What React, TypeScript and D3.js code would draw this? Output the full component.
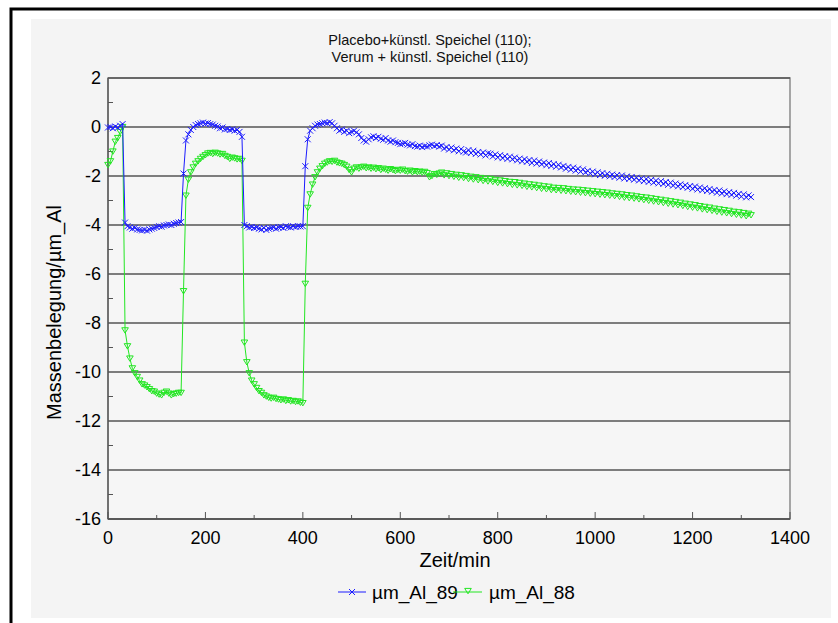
import * as d3 from "d3";

const titleLines = ["Placebo+künstl. Speichel (110);", "Verum + künstl. Speichel (110)"];
const xTicks = [0, 200, 400, 600, 800, 1000, 1200, 1400];
const yTicks = [2, 0, -2, -4, -6, -8, -10, -12, -14, -16];
const seriesNames = ["µm_Al_89", "µm_Al_88"];

// one reading every 5 minutes, 0 .. 1320 min
const sampleStep = 5;

const al89 = [
  -0.02, 0.0, -0.05, 0.02, -0.03, 0.05, 0.12,
  -3.9, -4.05, -4.1, -4.15, -4.12, -4.18, -4.2, -4.22, -4.2, -4.23, -4.18, -4.15, -4.12, -4.08, -4.05, -4.07, -4.02, -4.0, -3.98, -4.0, -3.95, -3.92, -3.9, -3.88,
  -1.9, -0.55, -0.3, -0.12, 0.0, 0.08, 0.12, 0.15, 0.18, 0.14, 0.16, 0.12, 0.1, 0.05, 0.02, -0.05, -0.02, -0.1, -0.08, -0.12, -0.1, -0.15, -0.12, -0.2, -0.4,
  -4.0, -4.05, -4.1, -4.08, -4.12, -4.1, -4.15, -4.18, -4.12, -4.2, -4.15, -4.12, -4.1, -4.15, -4.1, -4.08, -4.12, -4.05, -4.08, -4.1, -4.05, -4.08, -4.05, -4.06, -4.05,
  -1.6, -0.5, -0.15, -0.05, 0.05, 0.1, 0.12, 0.15, 0.18, 0.16,
  0.2, 0.15, 0.05, -0.05, -0.15, -0.1, -0.2, -0.15, -0.25, -0.2,
  -0.15, -0.22, -0.3, -0.45, -0.55, -0.6, -0.5, -0.42, -0.38, -0.45,
  -0.4, -0.48, -0.52, -0.45, -0.55, -0.6, -0.55, -0.62, -0.65, -0.7,
  -0.68, -0.65, -0.72, -0.75, -0.7, -0.78, -0.8, -0.76, -0.82, -0.78,
  -0.8, -0.75, -0.72, -0.78, -0.74, -0.8,
  -0.76, -0.88, -0.82, -0.92, -0.84, -0.95, -0.88, -0.99, -0.9, -1.0,
  -1.04, -0.94, -1.06, -0.97, -1.1, -1.02, -1.12, -1.04, -1.16, -1.07,
  -1.09, -1.2, -1.12, -1.24, -1.15, -1.27, -1.19, -1.3, -1.21, -1.32,
  -1.25, -1.36, -1.29, -1.4, -1.31, -1.42, -1.35, -1.47, -1.37, -1.49,
  -1.41, -1.52, -1.45, -1.56, -1.47, -1.59, -1.51, -1.62, -1.54, -1.65,
  -1.59, -1.7, -1.63, -1.74, -1.66, -1.78, -1.7, -1.82, -1.73, -1.85,
  -1.79, -1.89, -1.82, -1.93, -1.85, -1.96, -1.88, -1.99, -1.91, -2.01,
  -1.94, -2.04, -1.96, -2.07, -1.98, -2.1, -2.02, -2.12, -2.04, -2.15,
  -2.07, -2.18, -2.1, -2.21, -2.12, -2.24, -2.16, -2.27, -2.19, -2.3,
  -2.21, -2.32, -2.25, -2.36, -2.27, -2.39, -2.31, -2.42, -2.34, -2.45,
  -2.37, -2.48, -2.41, -2.52, -2.43, -2.55, -2.47, -2.58, -2.5, -2.61,
  -2.53, -2.64, -2.57, -2.68, -2.59, -2.71, -2.63, -2.74, -2.66, -2.77,
  -2.69, -2.8, -2.73, -2.84, -2.75, -2.87, -2.79, -2.86,
];

const al88 = [
  -1.55, -1.4, -1.0, -0.6, -0.45, -0.2, 0.0,
  -8.3, -8.95, -9.45, -9.85, -10.05, -10.2, -10.35, -10.5, -10.55, -10.62, -10.7, -10.78, -10.8, -10.88, -10.92, -10.95, -10.85, -10.8, -10.88, -10.95, -10.9, -10.88, -10.85, -10.85,
  -6.7, -2.8, -2.15, -1.85, -1.65, -1.5, -1.4, -1.3, -1.22, -1.15, -1.08, -1.06, -1.1, -1.05, -1.08, -1.12, -1.1, -1.18, -1.22, -1.3, -1.25, -1.28, -1.32, -1.3, -1.38,
  -8.8, -9.6, -10.05, -10.35, -10.5, -10.65, -10.78, -10.85, -10.95, -11.0, -11.05, -11.08, -11.05, -11.1, -11.12, -11.15, -11.12, -11.18, -11.15, -11.2, -11.18, -11.22, -11.2, -11.25, -11.27,
  -6.4, -3.3, -2.75, -2.35, -2.05, -1.85, -1.7, -1.6, -1.5, -1.45,
  -1.4, -1.42, -1.38, -1.45, -1.48, -1.5, -1.55, -1.62, -1.75, -1.85,
  -1.7, -1.65, -1.7, -1.65, -1.62, -1.68, -1.65, -1.7, -1.66, -1.72,
  -1.68, -1.75, -1.7, -1.74, -1.78, -1.72, -1.76, -1.8, -1.75, -1.78,
  -1.74, -1.8, -1.82, -1.78, -1.85, -1.8, -1.84, -1.82, -1.86, -1.83,
  -1.88, -2.05, -2.0, -1.92, -1.95, -1.9,
  -1.86, -1.97, -1.89, -2.0, -1.92, -2.03, -1.95, -2.07, -1.97, -2.08,
  -2.0, -2.12, -2.03, -2.14, -2.05, -2.17, -2.08, -2.2, -2.11, -2.22,
  -2.12, -2.24, -2.16, -2.28, -2.18, -2.3, -2.21, -2.33, -2.24, -2.36,
  -2.25, -2.38, -2.28, -2.4, -2.31, -2.44, -2.34, -2.46, -2.36, -2.49,
  -2.39, -2.52, -2.42, -2.54, -2.44, -2.57, -2.48, -2.58, -2.49, -2.6,
  -2.5, -2.62, -2.53, -2.64, -2.55, -2.66, -2.56, -2.68, -2.58, -2.7,
  -2.6, -2.72, -2.62, -2.74, -2.64, -2.76, -2.66, -2.78, -2.68, -2.8,
  -2.71, -2.82, -2.73, -2.85, -2.75, -2.88, -2.78, -2.9, -2.8, -2.92,
  -2.83, -2.95, -2.86, -2.98, -2.88, -3.01, -2.91, -3.04, -2.94, -3.07,
  -2.97, -3.1, -3.0, -3.13, -3.03, -3.16, -3.06, -3.19, -3.09, -3.22,
  -3.13, -3.26, -3.16, -3.29, -3.19, -3.32, -3.23, -3.36, -3.26, -3.39,
  -3.29, -3.42, -3.33, -3.46, -3.36, -3.49, -3.39, -3.52, -3.42, -3.55,
  -3.46, -3.58, -3.48, -3.61, -3.51, -3.64, -3.54, -3.6,
];

const W = 838;
const H = 623;
const plot = { left: 108, right: 790, top: 78, bottom: 519 };

const blue = "#1c1cff";
const green = "#22e622";

const crossPath = "M-3,-3L3,3M-3,3L3,-3";
const triPath = "M-3.3,-2.6L3.3,-2.6L0,2.8Z";

export default function App() {
  const x = d3.scaleLinear().domain([0, 1400]).range([plot.left, plot.right]);
  const y = d3.scaleLinear().domain([-16, 2]).range([plot.bottom, plot.top]);

  const pts89 = al89.map((v, i) => [i * sampleStep, v] as [number, number]);
  const pts88 = al88.map((v, i) => [i * sampleStep, v] as [number, number]);

  const line = d3
    .line<[number, number]>()
    .x((d) => x(d[0]))
    .y((d) => y(d[1]));

  const minorX = d3.range(100, 1400, 200);
  const minorY = d3.range(-15, 2, 2);
  const font = "'Liberation Sans', Arial, sans-serif";

  return (
    <svg
      width={W}
      height={H}
      style={{ position: "absolute", left: 0, top: 0, background: "#fff" }}
      fontFamily={font}
    >
      {/* outer frame, cut at right and bottom */}
      <rect x={11} y={9} width={900} height={700} fill="#fff" stroke="#000" strokeWidth={3} />
      <rect x={31} y={19} width={800} height={599} fill="#f4f4f4" />

      {/* title */}
      {titleLines.map((t, i) => (
        <text key={t} x={430} y={45 + i * 17} textAnchor="middle" fontSize={14.5} fill="#111">
          {t}
        </text>
      ))}

      {/* plot frame */}
      <rect
        x={plot.left}
        y={plot.top}
        width={plot.right - plot.left}
        height={plot.bottom - plot.top}
        fill="#f6f6f6"
        stroke="#8a8a8a"
        strokeWidth={1.5}
      />

      {/* horizontal grid */}
      {yTicks.map((t) => (
        <line key={"g" + t} x1={plot.left} x2={plot.right} y1={y(t)} y2={y(t)} stroke="#555" strokeWidth={1.3} />
      ))}

      {/* axes */}
      <line x1={plot.left} x2={plot.left} y1={plot.top} y2={plot.bottom} stroke="#555" strokeWidth={1.3} />
      <line x1={plot.left} x2={plot.right} y1={plot.bottom} y2={plot.bottom} stroke="#555" strokeWidth={1.3} />

      {minorY.map((t) => (
        <line key={"my" + t} x1={plot.left} x2={plot.left + 5} y1={y(t)} y2={y(t)} stroke="#555" />
      ))}
      {xTicks.map((t) => (
        <line key={"tx" + t} x1={x(t)} x2={x(t)} y1={plot.bottom} y2={plot.bottom - 7} stroke="#555" />
      ))}
      {minorX.map((t) => (
        <line key={"mx" + t} x1={x(t)} x2={x(t)} y1={plot.bottom} y2={plot.bottom - 4} stroke="#555" />
      ))}

      {/* tick labels */}
      {yTicks.map((t) => (
        <text key={"ly" + t} x={plot.left - 7} y={y(t) + 6} textAnchor="end" fontSize={18} fill="#000">
          {t}
        </text>
      ))}
      {xTicks.map((t) => (
        <text key={"lx" + t} x={x(t)} y={544} textAnchor="middle" fontSize={18} fill="#000">
          {t}
        </text>
      ))}

      {/* axis titles */}
      <text x={455} y={567} textAnchor="middle" fontSize={20} fill="#000">
        Zeit/min
      </text>
      <text
        transform={`translate(61,${(plot.top + plot.bottom) / 2 + 14}) rotate(-90)`}
        textAnchor="middle"
        fontSize={20}
        fill="#000"
      >
        Massenbelegung/µm_Al
      </text>

      {/* series */}
      <path d={line(pts88) ?? ""} fill="none" stroke={green} strokeWidth={1} />
      {pts88.map((d, i) => (
        <path key={"m88" + i} d={triPath} transform={`translate(${x(d[0])},${y(d[1])})`} fill="none" stroke={green} strokeWidth={1} />
      ))}
      <path d={line(pts89) ?? ""} fill="none" stroke={blue} strokeWidth={1} />
      {pts89.map((d, i) => (
        <path key={"m89" + i} d={crossPath} transform={`translate(${x(d[0])},${y(d[1])})`} fill="none" stroke={blue} strokeWidth={1} />
      ))}

      {/* legend */}
      <line x1={338} x2={366} y1={592} y2={592} stroke={blue} />
      <path d={crossPath} transform="translate(352,592)" stroke={blue} fill="none" />
      <text x={372} y={599} fontSize={19} fill="#000">
        {seriesNames[0]}
      </text>
      <line x1={453} x2={482} y1={592} y2={592} stroke={green} />
      <path d={triPath} transform="translate(468,591)" stroke={green} fill="none" />
      <text x={489} y={599} fontSize={19} fill="#000">
        {seriesNames[1]}
      </text>
    </svg>
  );
}
